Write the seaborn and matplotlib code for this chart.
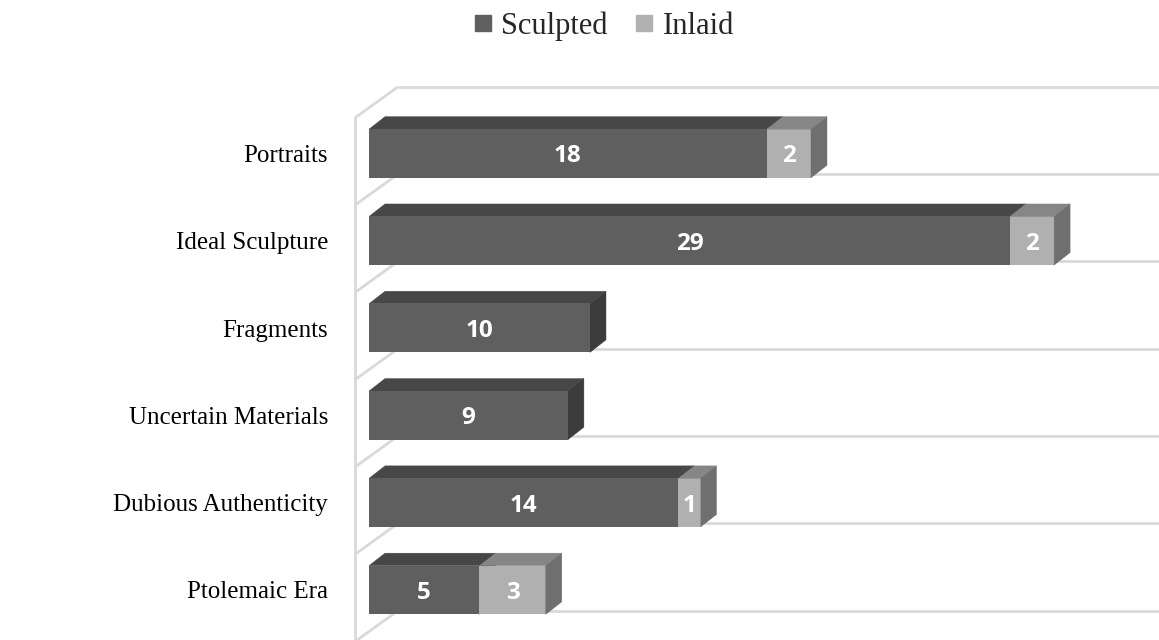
import matplotlib
matplotlib.use("Agg")
import matplotlib.pyplot as plt
from matplotlib.patches import Polygon
from matplotlib.lines import Line2D
import numpy as np
import pandas as pd
import seaborn as sns

# Collection counts by category
categories = ["Portraits", "Ideal Sculpture", "Fragments",
              "Uncertain Materials", "Dubious Authenticity", "Ptolemaic Era"]
sculpted = [18, 29, 10, 9, 14, 5]
inlaid = [2, 2, 0, 0, 1, 3]
series_names = ["Sculpted", "Inlaid"]

# Face shades (front, top, side) for each series
SCULPT_FRONT, SCULPT_TOP, SCULPT_SIDE = "#5f5f5f", "#474747", "#3b3b3b"
INLAID_FRONT, INLAID_TOP, INLAID_SIDE = "#b0b0b0", "#868686", "#6f6f6f"
GRID = "#d9d9d9"

sns.set_style("white")
plt.rcParams["font.family"] = ["Liberation Serif", "DejaVu Serif"]

W, H, DPI = 1159, 640, 100
fig = plt.figure(figsize=(W / DPI, H / DPI), dpi=DPI)
ax = fig.add_axes([340 / W, 0, 819 / W, 1])

df = pd.DataFrame({"category": categories, "sculpted": sculpted, "inlaid": inlaid})
df["total"] = df["sculpted"] + df["inlaid"]

# stacked look: full totals in the inlaid shade, sculpted part drawn over them
BAR_W = 0.557
sns.barplot(data=df, x="total", y="category", color=INLAID_FRONT,
            saturation=1, width=BAR_W, ax=ax, zorder=3, linewidth=0)
n_total = len(ax.patches)
sns.barplot(data=df, x="sculpted", y="category", color=SCULPT_FRONT,
            saturation=1, width=BAR_W, ax=ax, zorder=5, linewidth=0)
total_bars = ax.patches[:n_total]
sculpt_bars = ax.patches[n_total:]

ax.set_xlim(-1.312, 35.747)
ax.set_ylim(5.573, -1.758)


def px_to_data(dx, dy):
    """Convert a screen offset in pixels (right, up) into data units."""
    p0 = ax.transData.transform((0.0, 0.0))
    q = ax.transData.inverted().transform(p0 + np.array([dx, dy]))
    return q[0], q[1]


# depth of each bar box and of the chart walls
ddx, ddy = px_to_data(16, 12.5)
fx, fy = px_to_data(-14, -8)     # front edge of the side wall
bx, by = px_to_data(29, 23)      # back wall plane
x_max = ax.get_xlim()[1]
y_max = ax.get_ylim()[0]

# walls: horizontal back gridlines with diagonal side-wall links
for k in range(len(categories) + 1):
    yb = k - 0.5
    ax.plot([fx, bx], [yb + fy, yb + by], color=GRID, lw=2, zorder=0.5,
            solid_capstyle="butt")
    ax.plot([bx, x_max], [yb + by, yb + by], color=GRID, lw=2, zorder=0.5,
            solid_capstyle="butt")
ax.plot([fx, fx], [-0.5 + fy, y_max], color=GRID, lw=2, zorder=0.5)


def add_face(pts, color, z):
    ax.add_patch(Polygon(pts, closed=True, facecolor=color, edgecolor=color,
                         linewidth=0.3, zorder=z))


LABEL_KW = dict(ha="center", va="center_baseline", color="white",
                fontweight="bold", family="Open Sans", fontsize=17.5, zorder=10)

for bar_s, bar_t, s_val, i_val in zip(sculpt_bars, total_bars, sculpted, inlaid):
    y0 = bar_s.get_y()
    y1 = y0 + bar_s.get_height()
    a = bar_s.get_x()
    b = a + bar_s.get_width()
    # sculpted top and side
    add_face([(a, y0), (b, y0), (b + ddx, y0 + ddy), (a + ddx, y0 + ddy)], SCULPT_TOP, 2)
    add_face([(b, y0), (b + ddx, y0 + ddy), (b + ddx, y1 + ddy), (b, y1)], SCULPT_SIDE, 2)
    ax.text((a + b) / 2, (y0 + y1) / 2, str(s_val), **LABEL_KW)
    if i_val > 0:
        c = bar_t.get_x() + bar_t.get_width()
        add_face([(b, y0), (c, y0), (c + ddx, y0 + ddy), (b + ddx, y0 + ddy)], INLAID_TOP, 4)
        add_face([(c, y0), (c + ddx, y0 + ddy), (c + ddx, y1 + ddy), (c, y1)], INLAID_SIDE, 4)
        ax.text((b + c) / 2, (y0 + y1) / 2, str(i_val), **LABEL_KW)

for sp in ax.spines.values():
    sp.set_visible(False)
ax.set_xticks([])
ax.set_xlabel("")
ax.set_ylabel("")
ax.tick_params(axis="y", length=0, pad=8.6, labelsize=18, labelcolor="black")
for lbl in ax.get_yticklabels():
    lbl.set_family(["Liberation Serif", "DejaVu Serif"])

handles = [Line2D([], [], marker="s", ls="", color=SCULPT_FRONT, markersize=11.5),
           Line2D([], [], marker="s", ls="", color=INLAID_FRONT, markersize=11.5)]
fig.legend(handles, series_names, loc="center", bbox_to_anchor=(604 / W, 1 - 26 / H),
           ncol=2, frameon=False, prop={"family": "Liberation Serif", "size": 22},
           handlelength=0.6, handletextpad=0.3, columnspacing=0.9)

fig.savefig("out.png", dpi=DPI, facecolor="white")
